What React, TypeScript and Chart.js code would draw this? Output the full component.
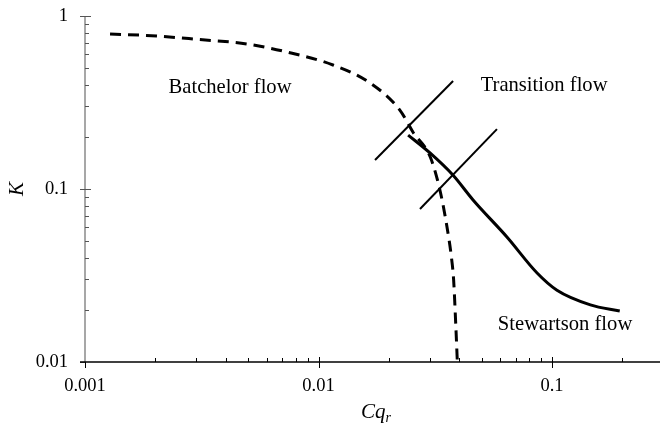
import React, { useEffect, useRef } from "react";
import Chart from "chart.js/auto";

const batchelorX = [0.00128, 0.00203, 0.00302, 0.00494, 0.00733, 0.01153, 0.01663, 0.0223, 0.0254, 0.0301, 0.0331, 0.0355, 0.0372, 0.0379, 0.0387, 0.0393];
const batchelorY = [0.787, 0.766, 0.733, 0.689, 0.619, 0.521, 0.41, 0.286, 0.213, 0.153, 0.0987, 0.0603, 0.0389, 0.0298, 0.0165, 0.0101];

const stewartsonX = [0.0242, 0.0301, 0.0377, 0.0459, 0.0641, 0.0863, 0.105, 0.146, 0.195];
const stewartsonY = [0.205, 0.161, 0.12, 0.0864, 0.0528, 0.0327, 0.026, 0.0214, 0.0197];

const transition1X = [0.01746, 0.0377];
const transition1Y = [0.147, 0.421];
const transition2X = [0.0272, 0.0581];
const transition2Y = [0.0766, 0.222];

const xMajorTicks = [0.001, 0.01, 0.1];
const xTickLabels = ["0.001", "0.01", "0.1"];
const xMinorTicks = [0.002, 0.003, 0.004, 0.005, 0.006, 0.007, 0.008, 0.009, 0.02, 0.03, 0.04, 0.05, 0.06, 0.07, 0.08, 0.09, 0.2];
const yMajorTicks = [0.01, 0.1, 1];
const yTickLabels = ["0.01", "0.1", "1"];
const yMinorTicks = [0.02, 0.03, 0.04, 0.05, 0.06, 0.07, 0.08, 0.09, 0.2, 0.3, 0.4, 0.5, 0.6, 0.7, 0.8, 0.9];

const regionLabels = ["Batchelor flow", "Transition flow", "Stewartson flow"];
const regionLabelX = [0.00418, 0.0925, 0.1137];
const regionLabelY = [0.384, 0.394, 0.0164];

const zip = (xs: number[], ys: number[]) => xs.map((x, i) => ({ x, y: ys[i] }));

const FONT = "'Liberation Serif', 'Times New Roman', serif";

const axesPlugin = {
  id: "customAxes",
  afterDraw(chart: any) {
    const ctx = chart.ctx;
    const xs = chart.scales.x;
    const ys = chart.scales.y;
    const left = chart.chartArea.left;
    const right = chart.chartArea.right;
    const top = chart.chartArea.top;
    const bottom = chart.chartArea.bottom;
    ctx.save();
    // y axis (gray)
    ctx.strokeStyle = "#8a8a8a";
    ctx.lineWidth = 1.5;
    ctx.beginPath();
    ctx.moveTo(left, top);
    ctx.lineTo(left, bottom);
    ctx.stroke();
    ctx.lineWidth = 1;
    ctx.strokeStyle = "#555";
    yMinorTicks.forEach((v) => {
      const p = Math.round(ys.getPixelForValue(v)) + 0.5;
      ctx.beginPath();
      ctx.moveTo(left, p);
      ctx.lineTo(left + 4, p);
      ctx.stroke();
    });
    yMajorTicks.forEach((v) => {
      const p = Math.round(ys.getPixelForValue(v)) + 0.5;
      ctx.beginPath();
      ctx.moveTo(left - 5, p);
      ctx.lineTo(v === 0.01 ? left : left + 6, p);
      ctx.stroke();
    });
    // x axis (black)
    ctx.strokeStyle = "#000";
    ctx.lineWidth = 1.5;
    ctx.beginPath();
    ctx.moveTo(left - 5, bottom);
    ctx.lineTo(right, bottom);
    ctx.stroke();
    ctx.lineWidth = 1;
    xMinorTicks.forEach((v) => {
      const p = Math.round(xs.getPixelForValue(v)) + 0.5;
      ctx.beginPath();
      ctx.moveTo(p, bottom);
      ctx.lineTo(p, bottom - 4);
      ctx.stroke();
    });
    xMajorTicks.forEach((v) => {
      const p = Math.round(xs.getPixelForValue(v)) + 0.5;
      ctx.beginPath();
      ctx.moveTo(p, bottom + 6);
      ctx.lineTo(p, v === 0.001 ? bottom : bottom - 5);
      ctx.stroke();
    });
    // tick labels
    ctx.fillStyle = "#000";
    ctx.font = `18.5px ${FONT}`;
    ctx.textAlign = "right";
    ctx.textBaseline = "middle";
    yMajorTicks.forEach((v, i) => {
      ctx.fillText(yTickLabels[i], left - 17, ys.getPixelForValue(v));
    });
    ctx.textAlign = "center";
    ctx.textBaseline = "top";
    xMajorTicks.forEach((v, i) => {
      ctx.fillText(xTickLabels[i], xs.getPixelForValue(v), bottom + 15);
    });
    // region labels
    ctx.font = `20.6px ${FONT}`;
    ctx.textBaseline = "middle";
    regionLabels.forEach((t, i) => {
      ctx.fillText(t, xs.getPixelForValue(regionLabelX[i]), ys.getPixelForValue(regionLabelY[i]));
    });
    // axis titles
    ctx.font = `italic 21px ${FONT}`;
    ctx.textAlign = "left";
    ctx.textBaseline = "alphabetic";
    const cqW = ctx.measureText("Cq").width;
    const tx = 361;
    ctx.fillText("Cq", tx, 418);
    ctx.font = `italic 14px ${FONT}`;
    ctx.fillText("r", tx + cqW, 422);
    ctx.save();
    ctx.translate(17, (top + bottom) / 2);
    ctx.rotate(-Math.PI / 2);
    ctx.font = `italic 21px ${FONT}`;
    ctx.textAlign = "center";
    ctx.textBaseline = "middle";
    ctx.fillText("K", 0, 0);
    ctx.restore();
    ctx.restore();
  },
};

export default function App() {
  const ref = useRef<HTMLCanvasElement | null>(null);
  useEffect(() => {
    if (!ref.current) return;
    const chart = new Chart(ref.current, {
      type: "line",
      data: {
        datasets: [
          {
            data: zip(batchelorX, batchelorY),
            borderColor: "#000",
            borderWidth: 3,
            borderDash: [11, 7],
            pointRadius: 0,
            tension: 0.4,
            cubicInterpolationMode: "monotone",
            fill: false,
          },
          {
            data: zip(stewartsonX, stewartsonY),
            borderColor: "#000",
            borderWidth: 3,
            pointRadius: 0,
            tension: 0.4,
            cubicInterpolationMode: "monotone",
            fill: false,
          },
          {
            data: zip(transition1X, transition1Y),
            borderColor: "#000",
            borderWidth: 2,
            pointRadius: 0,
            fill: false,
          },
          {
            data: zip(transition2X, transition2Y),
            borderColor: "#000",
            borderWidth: 2,
            pointRadius: 0,
            fill: false,
          },
        ],
      },
      options: {
        animation: false,
        responsive: false,
        parsing: false,
        layout: { padding: { left: 85, right: 0, top: 16, bottom: 67 } },
        plugins: { legend: { display: false }, tooltip: { enabled: false } },
        scales: {
          x: { type: "logarithmic", min: 0.001, max: 0.29, display: false },
          y: { type: "logarithmic", min: 0.01, max: 1, display: false },
        },
      },
      plugins: [axesPlugin],
    } as any);
    return () => chart.destroy();
  }, []);
  return (
    <div style={{ position: "fixed", left: 0, top: 0, width: 660, height: 429, background: "#fff" }}>
      <canvas ref={ref} width={660} height={429} />
    </div>
  );
}
